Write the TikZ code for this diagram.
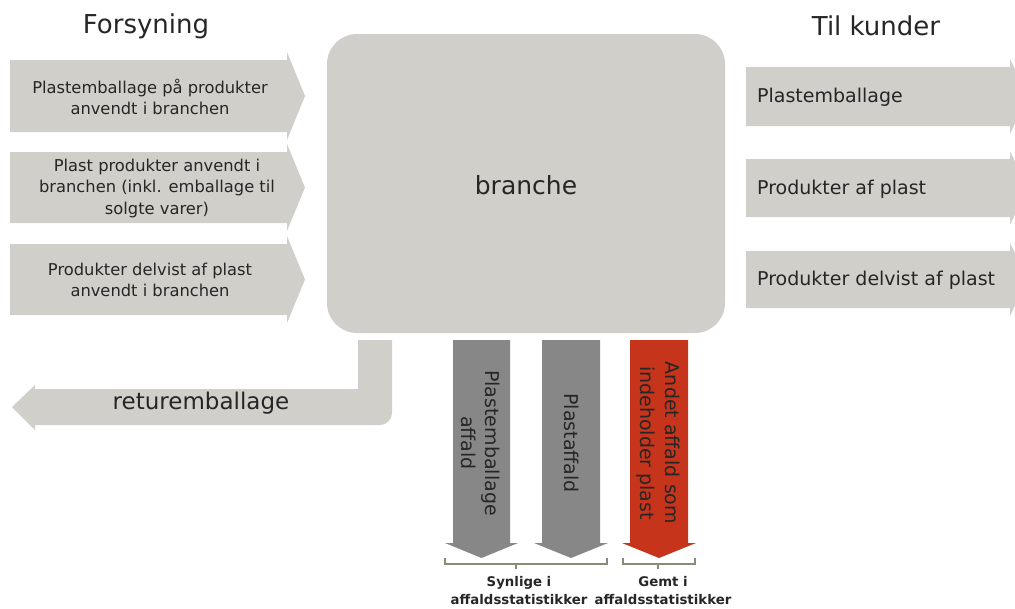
\documentclass[tikz,border=0pt]{standalone}
\usepackage{fontspec}
\setmainfont{DejaVu Sans}
\begin{document}
\begin{tikzpicture}[x=1pt,y=-1pt,
  txt/.style={text=tcol, inner sep=0pt, align=center}]
\definecolor{lgray}{HTML}{D0CFCA}
\definecolor{dgray}{HTML}{878787}
\definecolor{redarrow}{HTML}{C5341B}
\definecolor{tcol}{HTML}{262626}
\definecolor{bracecol}{HTML}{8A8A7A}
\useasboundingbox (0,0) rectangle (1015,608);
\clip (0,0) rectangle (1015,608);

% titles
\node[txt, font=\fontsize{26}{30}\selectfont] (forsyning) at (146,26) {Forsyning};
\node[txt, font=\fontsize{26}{30}\selectfont] (tilkunder) at (876,26) {Til kunder};

% main box
\fill[lgray, rounded corners=30pt] (327,34) rectangle (725,333);
\node[txt, font=\fontsize{25}{30}\selectfont] (branche) at (526,185) {branche};

% left arrows
\foreach \t/\b in {60/132, 152/223, 244/315}{
  \fill[lgray] (10,\t) -- (287,\t) -- (287,\t-8) -- (305,{(\t+\b)/2}) -- (287,\b+8) -- (287,\b) -- (10,\b) -- cycle;
}
\node[txt, font=\fontsize{16.3}{21}\selectfont] (in1) at (150,97) {Plastemballage på produkter\\anvendt i branchen};
\node[txt, font=\fontsize{16.3}{21.5}\selectfont] (in2) at (157,188) {Plast produkter anvendt i\\branchen (inkl. emballage til\\solgte varer)};
\node[txt, font=\fontsize{16.3}{21}\selectfont] (in3) at (150,280) {Produkter delvist af plast\\anvendt i branchen};

% right arrows
\foreach \t/\b in {67/126, 159/217, 251/308}{
  \fill[lgray] (746,\t) -- (1010,\t) -- (1010,\t-8) -- (1028,{(\t+\b)/2}) -- (1010,\b+8) -- (1010,\b) -- (746,\b) -- cycle;
}
\node[txt, anchor=west, font=\fontsize{19}{23}\selectfont] (out1) at (757,97) {Plastemballage};
\node[txt, anchor=west, font=\fontsize{19}{23}\selectfont] (out2) at (757,189) {Produkter af plast};
\node[txt, anchor=west, font=\fontsize{19}{23}\selectfont] (out3) at (757,280) {Produkter delvist af plast};

% return arrow
\fill[lgray] (358,340) -- (392,340) [rounded corners=12pt] -- (392,425) [sharp corners] -- (35,425) -- (35,430) -- (12,407) -- (35,385) -- (35,389) -- (358,389) -- cycle;
\node[txt, font=\fontsize{23}{28}\selectfont] (retur) at (201,403) {returemballage};

% down arrows
\foreach \l/\r/\c in {453/510/dgray, 542/600/dgray, 630/688/redarrow}{
  \fill[\c] (\l,340) -- (\r,340) -- (\r,543) -- (\r+8,543) -- ({(\l+\r)/2},558) -- (\l-8,543) -- (\l,543) -- cycle;
}
\node[txt, rotate=-90, font=\fontsize{19}{24}\selectfont] (w1) at (481,443) {Plastemballage\\affald};
\node[txt, rotate=-90, font=\fontsize{19}{24}\selectfont] (w2) at (572,443) {Plastaffald};
\node[txt, rotate=-90, font=\fontsize{19}{25}\selectfont] (w3) at (658,443) {Andet affald som\\indeholder plast};

% braces
\draw[bracecol, line width=1.5pt] (445,558) -- (445,564) -- (607,564) -- (607,558);
\draw[bracecol, line width=1.5pt] (516,564) -- (516,569);
\draw[bracecol, line width=1.5pt] (623,558) -- (623,564) -- (695,564) -- (695,558);
\draw[bracecol, line width=1.5pt] (658,564) -- (658,569);

\node[txt, font=\bfseries\fontsize{13.3}{18}\selectfont] (synlige) at (519,591) {Synlige i\\affaldsstatistikker};
\node[txt, font=\bfseries\fontsize{13.3}{18}\selectfont] (gemt) at (663,591) {Gemt i\\affaldsstatistikker};
\end{tikzpicture}
\end{document}
